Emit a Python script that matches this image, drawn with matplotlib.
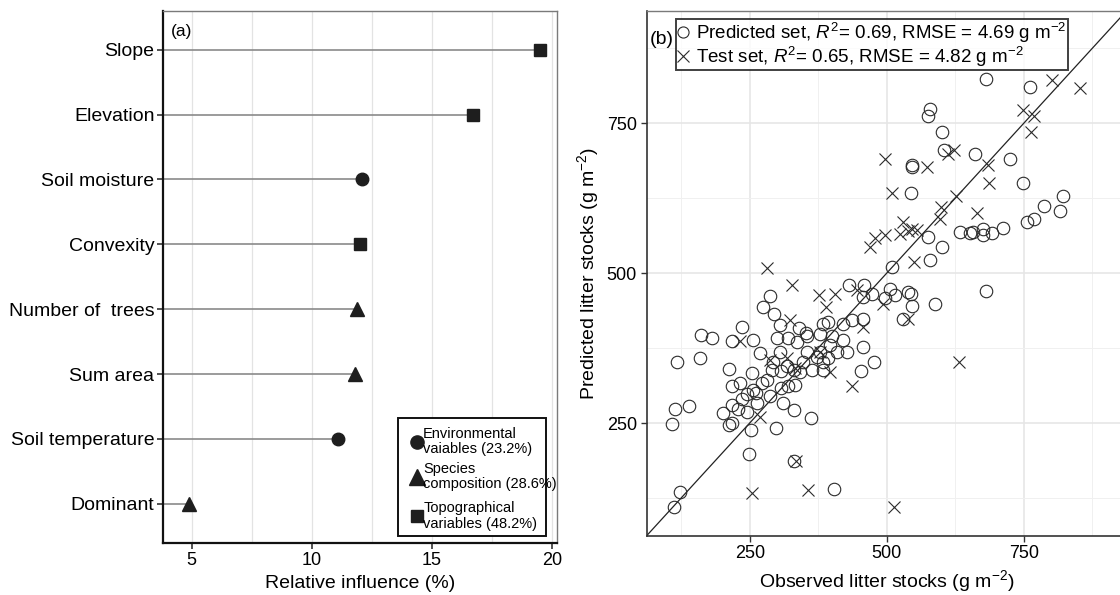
import matplotlib.pyplot as plt
from matplotlib.lines import Line2D
from matplotlib.patches import Rectangle

plt.rcParams['font.family'] = ['Liberation Sans', 'DejaVu Sans']
plt.rcParams['mathtext.fontset'] = 'custom'
plt.rcParams['mathtext.rm'] = 'Liberation Sans'
plt.rcParams['mathtext.it'] = 'Liberation Sans:italic'

# relative influence of each predictor (top to bottom)
variaveis = ['Slope', 'Elevation', 'Soil moisture', 'Convexity',
             'Number of  trees', 'Sum area', 'Soil temperature', 'Dominant']
influencia = [19.5, 16.7, 12.1, 12.0, 11.9, 11.8, 11.1, 4.9]
grupo = ['topo', 'topo', 'env', 'topo', 'spp', 'spp', 'env', 'spp']

grupos = ['env', 'spp', 'topo']
grupo_labels = ['Environmental\nvaiables (23.2%)',
                'Species\ncomposition (28.6%)',
                'Topographical\nvariables (48.2%)']
grupo_marker = {'env': 'o', 'spp': '^', 'topo': 's'}
grupo_size = {'env': 9, 'spp': 10.5, 'topo': 8.6}

# observed vs predicted litter stocks (g m-2)
pred_obs = [681, 762, 579, 576, 601, 605, 662, 725, 547, 546, 749, 544, 822, 787,
            816, 768, 756, 713, 693, 675, 675, 657, 634, 652, 576, 600, 579, 509,
            681, 431, 459, 473, 506, 539, 287, 497, 515, 545,
            274, 295, 236, 162, 182, 217, 256, 305, 340, 354, 299, 320, 378, 393,
            421, 436, 457, 457, 547, 529, 589, 456, 477, 454, 268, 305, 336, 354,
            378, 397, 421, 427, 409, 393, 372, 117, 159, 213, 255, 290, 308, 330,
            342, 363, 384, 293, 217, 232, 245, 256, 272, 287, 308, 333, 320, 311,
            330, 361, 202, 217, 229, 245, 263, 114, 140, 109, 213, 217, 252, 298,
            249, 331, 404, 122, 111, 384, 348, 384, 262, 281, 352, 401, 318, 236]
pred_est = [824, 810, 774, 763, 735, 705, 698, 691, 681, 677, 650, 634, 629, 612,
            603, 590, 586, 575, 567, 574, 563, 568, 568, 567, 560, 544, 522, 510,
            470, 481, 481, 466, 474, 469, 462, 459, 463, 465,
            443, 432, 411, 396, 392, 387, 389, 413, 408, 395, 392, 391, 399, 419,
            416, 422, 424, 460, 445, 424, 448, 376, 352, 337, 366, 369, 385, 369,
            369, 380, 388, 369, 369, 358, 360, 352, 359, 340, 333, 338, 337, 338,
            335, 338, 338, 352, 312, 316, 299, 305, 316, 295, 308, 313, 312, 283,
            272, 259, 266, 280, 274, 269, 283, 274, 279, 249, 247, 250, 238, 241,
            199, 187, 140, 135, 110, 416, 352, 352, 300, 322, 400, 395, 345, 290]

teste_obs = [802, 853, 748, 769, 763, 623, 612, 496, 574, 685, 687, 510, 626, 599,
             665, 597, 530, 524, 539, 546, 555, 496, 479, 470, 550, 281, 327, 377,
             406, 445, 389, 493, 324, 232, 287, 457, 538, 378, 397, 632, 436, 268,
             334, 254, 356, 514, 318, 333]
teste_est = [823, 809, 773, 762, 735, 705, 698, 690, 677, 680, 650, 634, 629, 610,
             601, 590, 585, 566, 570, 573, 572, 563, 559, 544, 519, 509, 480, 464,
             466, 472, 443, 448, 422, 387, 355, 410, 424, 369, 335, 352, 312, 260,
             187, 134, 139, 110, 358, 341]

fig = plt.figure(figsize=(11.2, 5.95), dpi=100)
ax1 = fig.add_axes([0.1453, 0.0879, 0.3523, 0.8941])
ax2 = fig.add_axes([0.5774, 0.0997, 0.4286, 0.8824])

cor = '#1e1e1e'

# ---- (a) influencia relativa ----
pos = list(range(len(variaveis)))
ax1.hlines(pos, 0, influencia, color='#8a8a8a', lw=1.2, zorder=2)
for i, v in enumerate(influencia):
    g = grupo[i]
    ax1.plot(v, i, marker=grupo_marker[g], ms=grupo_size[g], color=cor,
             ls='none', zorder=3)

ax1.set_xlim(3.79, 20.23)
ax1.set_ylim(len(variaveis) - 0.4, -0.6)
ax1.set_yticks(pos)
ax1.set_yticklabels(variaveis, fontsize=14)
ax1.set_xticks([5, 10, 15, 20])
ax1.set_xticks([7.5, 12.5, 17.5], minor=True)
ax1.tick_params(axis='x', labelsize=13, length=4, width=1.1, color='#222222', pad=3)
ax1.tick_params(axis='x', which='minor', length=0)
ax1.tick_params(axis='y', length=4, width=1.1, color='#222222', pad=2)
ax1.grid(axis='x', which='both', color='#e3e3e3', lw=0.9, zorder=0)
ax1.set_axisbelow(True)
ax1.set_xlabel('Relative influence (%)', fontsize=14, labelpad=4)
for s in ['left', 'bottom']:
    ax1.spines[s].set_color('#111111')
    ax1.spines[s].set_linewidth(1.6)
for s in ['top', 'right']:
    ax1.spines[s].set_color('#7a7a7a')
    ax1.spines[s].set_linewidth(1.0)
ax1.text(0.02, 0.96, '(a)', transform=ax1.transAxes, fontsize=12.5, va='center')

# legenda dos grupos (caixa desenhada a mao, o texto passa um pouco da borda)
ax1.add_patch(Rectangle((0.596, 0.0126), 0.375, 0.2218, transform=ax1.transAxes,
                        fill=True, facecolor='white', edgecolor='#111111', lw=1.4,
                        zorder=5))
leg_y = [0.1898, 0.124, 0.0502]
for g, lab, yy in zip(grupos, grupo_labels, leg_y):
    ax1.plot(0.644, yy, marker=grupo_marker[g], ms=grupo_size[g] + 0.5, color=cor,
             ls='none', transform=ax1.transAxes, zorder=6, clip_on=False)
    ax1.text(0.66, yy, lab, transform=ax1.transAxes, fontsize=10.5, va='center',
             ha='left', linespacing=1.12, zorder=6)

# ---- (b) observado x predito ----
lim = (62, 938)
ax2.plot(lim, lim, color='#222222', lw=0.9, zorder=2)
ax2.plot(pred_obs, pred_est, 'o', ms=9, mfc='none', mec='#2a2a2a', mew=0.8, zorder=3)
ax2.plot(teste_obs, teste_est, 'x', ms=8, color='#2a2a2a', mew=0.8, zorder=3)
ax2.set_xlim(lim)
ax2.set_ylim(lim)
ax2.set_xticks([250, 500, 750])
ax2.set_yticks([250, 500, 750])
ax2.set_xticks([125, 375, 625, 875], minor=True)
ax2.set_yticks([125, 375, 625, 875], minor=True)
ax2.grid(which='major', color='#e6e6e6', lw=1.2, zorder=0)
ax2.grid(which='minor', color='#f0f0f0', lw=0.7, zorder=0)
ax2.set_axisbelow(True)
ax2.tick_params(which='major', labelsize=13, length=4, width=1.0, color='#333333', pad=3)
ax2.tick_params(which='minor', length=0)
ax2.set_xlabel('Observed litter stocks (g m$^{-2}$)', fontsize=14, labelpad=4)
ax2.set_ylabel('Predicted litter stocks (g m$^{-2}$)', fontsize=14, labelpad=4)
for s in ['left', 'bottom']:
    ax2.spines[s].set_color('#333333')
    ax2.spines[s].set_linewidth(1.2)
for s in ['top', 'right']:
    ax2.spines[s].set_color('#7a7a7a')
    ax2.spines[s].set_linewidth(1.0)
ax2.text(0.006, 0.945, '(b)', transform=ax2.transAxes, fontsize=14, va='center')

handles2 = [Line2D([], [], marker='o', ms=8, mfc='none', mec='#2a2a2a', mew=0.8, ls='none'),
            Line2D([], [], marker='x', ms=8, color='#2a2a2a', mew=0.8, ls='none')]
labels2 = [r'Predicted set, $R^2$= 0.69, RMSE = 4.69 g m$^{-2}$',
           r'Test set, $R^2$= 0.65, RMSE = 4.82 g m$^{-2}$']
leg2 = ax2.legend(handles2, labels2, loc='upper left', bbox_to_anchor=(0.061, 0.985),
                  fontsize=13.5, frameon=True, fancybox=False, handlelength=0.6,
                  handletextpad=0.35, labelspacing=0.0, borderpad=0.1,
                  borderaxespad=0.0)
leg2.get_frame().set_edgecolor('#111111')
leg2.get_frame().set_linewidth(1.4)

fig.savefig('out.png', dpi=100)
